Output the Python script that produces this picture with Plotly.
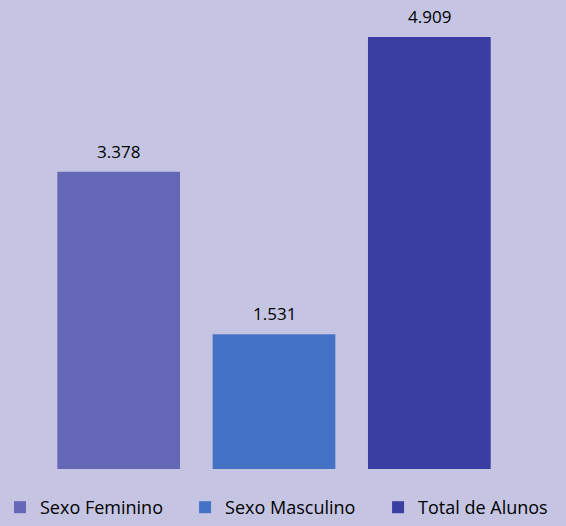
import plotly.graph_objects as go

categories = ["Sexo Feminino", "Sexo Masculino", "Total de Alunos"]
values = [3378, 1531, 4909]
labels = ["3.378", "1.531", "4.909"]
colors = ["#6567B7", "#4472C4", "#3A3DA2"]
legend_ids = ["legend", "legend2", "legend3"]
legend_x = [0.0, 0.327, 0.668]

fig = go.Figure()
for c, v, l, col, lg in zip(categories, values, labels, colors, legend_ids):
    fig.add_trace(go.Bar(
        x=[c], y=[v], name=c, legend=lg,
        marker=dict(color=col, line=dict(width=0)),
    ))
    fig.add_annotation(x=c, y=v, text=l, showarrow=False, yanchor="bottom",
                       yshift=7, font=dict(size=17, color="#000000", family="Open Sans"))

legend_style = dict(orientation="h", xref="container", xanchor="left",
                    yref="container", y=0.0, yanchor="bottom",
                    font=dict(size=18, color="#000000", family="Open Sans"),
                    bgcolor="rgba(0,0,0,0)", itemsizing="constant")

fig.update_layout(
    width=566, height=526,
    barmode="overlay", bargap=0.21,
    paper_bgcolor="#C5C5E3", plot_bgcolor="#C5C5E3",
    margin=dict(l=41, r=59, t=20, b=57),
    showlegend=True,
    legend=dict(x=legend_x[0], **legend_style),
    legend2=dict(x=legend_x[1], **legend_style),
    legend3=dict(x=legend_x[2], **legend_style),
    xaxis=dict(visible=False),
    yaxis=dict(visible=False, range=[0, 5102]),
)
fig.write_html("out.html", config={"displayModeBar": False},
               post_script="document.body.style.margin='0';")
